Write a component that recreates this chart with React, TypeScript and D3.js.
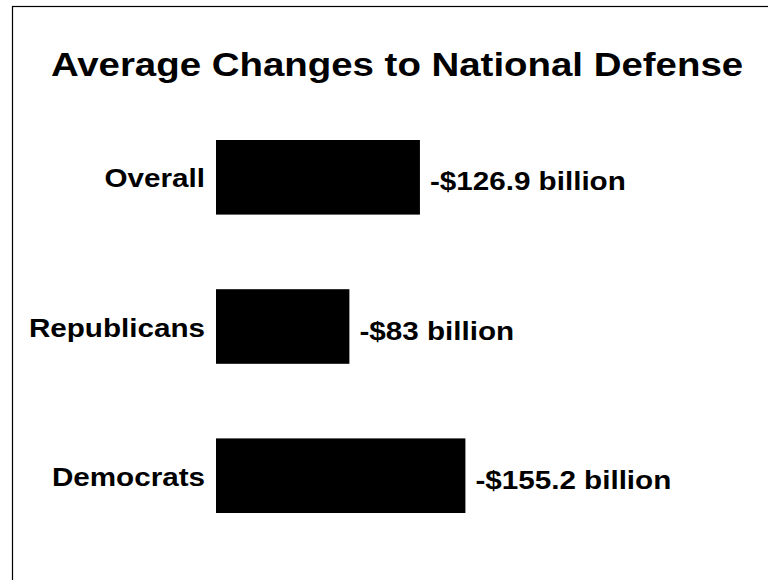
import React from "react";
import * as d3 from "d3";

const categories = ["Overall", "Republicans", "Democrats"];
const values = [126.9, 83, 155.2];
const valueLabels = ["-$126.9 billion", "-$83 billion", "-$155.2 billion"];
const title = "Average Changes to National Defense";

const W = 768;
const H = 580;
const FONT = "'Liberation Sans', Arial, Helvetica, sans-serif";
const SX = 1.14;

export default function App() {
  const y = d3
    .scaleBand<string>()
    .domain(categories)
    .range([102.7, 550.3])
    .paddingInner(0.5)
    .paddingOuter(0.25);
  const x = d3.scaleLinear().domain([0, 160]).range([216, 216 + 160 * 1.607]);

  return (
    <svg
      width={W}
      height={H}
      style={{ position: "absolute", left: 0, top: 0, display: "block", background: "#fff" }}
    >
      <rect x={12.5} y={6.5} width={W + 20} height={H + 20} fill="#fff" stroke="#000" strokeWidth={1.2} />
      <text
        transform={`translate(397,76) scale(${SX},1)`}
        textAnchor="middle"
        fontFamily={FONT}
        fontWeight="bold"
        fontSize={33.7}
        fill="#000"
      >
        {title}
      </text>
      {categories.map((c, i) => {
        const yc = (y(c) as number) + y.bandwidth() / 2;
        return (
          <g key={c}>
            <rect
              x={x(0)}
              y={y(c)}
              width={x(values[i]) - x(0)}
              height={y.bandwidth()}
              fill="#000"
            />
            <text
              transform={`translate(205,${yc + 10}) scale(${SX},1)`}
              textAnchor="end"
              fontFamily={FONT}
              fontWeight="bold"
              fontSize={26}
              fill="#000"
            >
              {c}
            </text>
            <text
              transform={`translate(${x(values[i]) + 10},${yc + 13}) scale(${SX},1)`}
              textAnchor="start"
              fontFamily={FONT}
              fontWeight="bold"
              fontSize={26}
              fill="#000"
            >
              {valueLabels[i]}
            </text>
          </g>
        );
      })}
    </svg>
  );
}
